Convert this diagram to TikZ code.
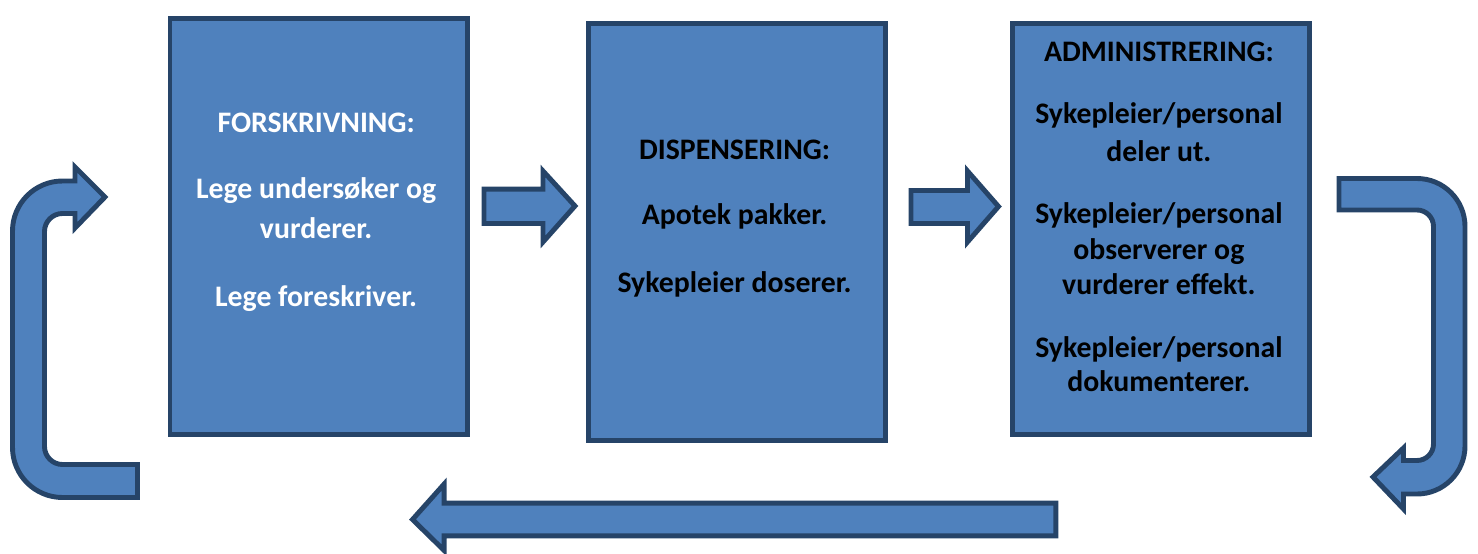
\documentclass[tikz,border=0pt]{standalone}
\usepackage{fontspec}
\setmainfont{Carlito}
\definecolor{boxfill}{HTML}{4F81BD}
\definecolor{boxline}{HTML}{264468}
\tikzset{
  x=0.02cm, y=-0.02cm,
  blockshape/.style={draw=boxline, fill=boxfill, line width=2.8pt, line join=miter},
  stepbox/.style={blockshape, rectangle, inner sep=0pt, anchor=north west},
  txt/.style={anchor=base, inner sep=0pt, font=\bfseries\fontsize{16.95}{19}\selectfont},
  wtxt/.style={txt, text=white},
  btxt/.style={txt, text=black},
}
\begin{document}
\begin{tikzpicture}
\useasboundingbox (0,0) rectangle (1478,554);
% boxes
\node[stepbox, minimum width=5.95cm, minimum height=8.334cm] (b1) at (167.5,15.8) {};
\node[stepbox, minimum width=5.954cm, minimum height=8.348cm] (b2) at (585.8,20.8) {};
\node[stepbox, minimum width=5.946cm, minimum height=8.234cm] (b3) at (1010.2,20.8) {};
% box 1 text
\node[wtxt] (t1a) at (316.2,132.5) {FORSKRIVNING:};
\node[wtxt] (t1b) at (316.2,198) {Lege undersøker og};
\node[wtxt] (t1c) at (316.2,238) {vurderer.};
\node[wtxt] (t1d) at (316.2,306) {Lege foreskriver.};
% box 2 text
\node[btxt] (t2a) at (734.6,159) {DISPENSERING:};
\node[btxt] (t2b) at (734.6,224) {Apotek pakker.};
\node[btxt] (t2c) at (734.6,292) {Sykepleier doserer.};
% box 3 text
\node[btxt] (t3a) at (1158.9,62) {ADMINISTRERING:};
\node[btxt] (t3b) at (1158.9,124) {Sykepleier/personal};
\node[btxt] (t3c) at (1158.9,161) {deler ut.};
\node[btxt] (t3d) at (1158.9,223) {Sykepleier/personal};
\node[btxt] (t3e) at (1158.9,259) {observerer og};
\node[btxt] (t3f) at (1158.9,294) {vurderer effekt.};
\node[btxt] (t3g) at (1158.9,357) {Sykepleier/personal};
\node[btxt] (t3h) at (1158.9,391) {dokumenterer.};
% straight arrows
\path[blockshape] (484,189.2) -- (543,189.2) -- (543,171) -- (575,206) -- (543,242) -- (543,223.5) -- (484,223.5) -- cycle;
\path[blockshape] (911,190.5) -- (967.5,190.5) -- (967.5,171) -- (998.5,206.5) -- (967.5,242) -- (967.5,223.5) -- (911,223.5) -- cycle;
\path[blockshape] (1055.8,503.2) -- (444.2,503.2) -- (444.2,484) -- (412.5,519.5) -- (444.2,550.5) -- (444.2,535.8) -- (1055.8,535.8) -- cycle;
% left U-turn arrow
\path[blockshape] (137.5,464.5) -- (62.5,464.5) arc[start angle=90, end angle=180, radius=18]
  -- (44.5,231.5) arc[start angle=180, end angle=270, radius=18]
  -- (75,213.5) -- (75,228) -- (105,197) -- (75,167) -- (75,181) -- (62.5,181)
  arc[start angle=270, end angle=180, radius=50]
  -- (12.5,447.5) arc[start angle=180, end angle=90, radius=50]
  -- (137.5,497.5) -- cycle;
% right U-turn arrow
\path[blockshape] (1339,178.5) -- (1417,178.5) arc[start angle=-90, end angle=0, radius=48]
  -- (1465,446) arc[start angle=0, end angle=90, radius=48]
  -- (1403.5,494) -- (1403.5,509) -- (1373,477) -- (1403.5,448) -- (1403.5,460.5) -- (1417,460.5)
  arc[start angle=90, end angle=0, radius=16.5]
  -- (1433.5,226.5) arc[start angle=0, end angle=-90, radius=16.5]
  -- (1339,210) -- cycle;
\end{tikzpicture}
\end{document}
